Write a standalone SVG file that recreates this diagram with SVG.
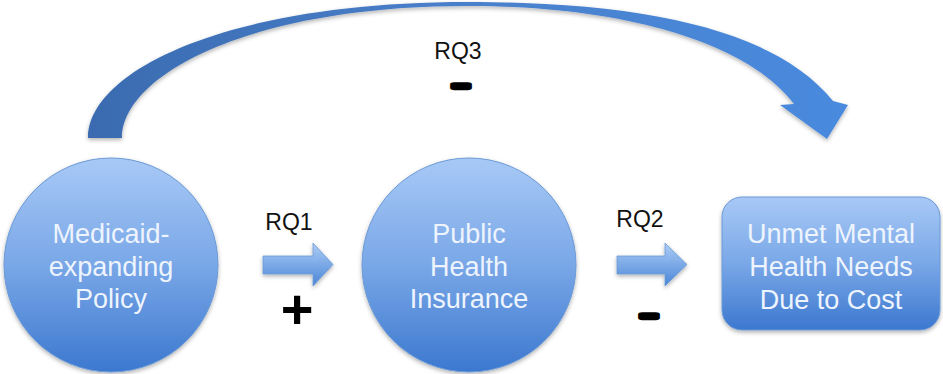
<svg xmlns="http://www.w3.org/2000/svg" width="943" height="374" viewBox="0 0 943 374">
  <defs>
    <linearGradient id="nodeGrad" x1="0" y1="0" x2="0" y2="1">
      <stop offset="0" stop-color="#a8c9f6"/>
      <stop offset="0.5" stop-color="#79a7e7"/>
      <stop offset="1" stop-color="#3c78cf"/>
    </linearGradient>
    <linearGradient id="smallArrow" x1="0" y1="0" x2="0" y2="1">
      <stop offset="0" stop-color="#aecdf6"/>
      <stop offset="1" stop-color="#4a86d6"/>
    </linearGradient>
    <linearGradient id="bigArrow" x1="88" y1="0" x2="848" y2="0" gradientUnits="userSpaceOnUse">
      <stop offset="0" stop-color="#3a6bb0"/>
      <stop offset="0.5" stop-color="#4a80cb"/>
      <stop offset="1" stop-color="#4a8ade"/>
    </linearGradient>
    <filter id="shadow" x="-10%" y="-10%" width="120%" height="125%">
      <feDropShadow dx="0" dy="2" stdDeviation="2" flood-color="#000" flood-opacity="0.3"/>
    </filter>
  </defs>
  <style>
    .node { fill: url(#nodeGrad); stroke: #6b9ad6; stroke-width: 1; filter: url(#shadow); }
    .ntext { font-family: "Liberation Sans", Arial, sans-serif; font-size: 27px; fill: #eef4fd; text-anchor: middle; }
    .lbl { font-family: "Liberation Sans", Arial, sans-serif; font-size: 23px; fill: #111; text-anchor: middle; }
    .sign { font-family: "Liberation Sans", Arial, sans-serif; font-weight: bold; fill: #000; text-anchor: middle; }
    .minus { font-family: "Liberation Sans", Arial, sans-serif; font-weight: bold; font-size: 30px; fill: #000; stroke: #000; stroke-width: 4.5; stroke-linejoin: round; text-anchor: middle; }
    .sarrow { fill: url(#smallArrow); stroke: #6b9ad6; stroke-width: 0.8; filter: url(#shadow); }
  </style>

  <g id="connectors">
    <path id="rq3-arrow" d="M88,138 C88,70 230,2 467,2 C660,2 780,35 833,101 L848,105 L827,139 L780,105 L794,104 C750,45 630,6 467,6 C250,6 122,75 122,138 Z" fill="url(#bigArrow)" filter="url(#shadow)"/>
    <path id="rq1-arrow" class="sarrow" d="M263,256 H313 V243 L333,264.5 L313,286 V274 H263 Z"/>
    <path id="rq2-arrow" class="sarrow" d="M617,256 H665 V243 L687,264.5 L665,286 V274 H617 Z"/>
    <text class="lbl" x="458" y="59">RQ3</text>
    <text class="minus" x="0" y="0" transform="translate(461,93.5) scale(1.8,1)">-</text>
    <text class="lbl" x="289" y="230">RQ1</text>
    <text class="sign" x="297" y="328" font-size="56">+</text>
    <text class="lbl" x="640" y="227">RQ2</text>
    <text class="minus" x="0" y="0" transform="translate(649,323.5) scale(1.8,1)">-</text>
  </g>

  <g id="node-medicaid">
    <circle class="node" cx="111" cy="265" r="107"/>
    <text class="ntext" x="111" y="243">Medicaid-</text>
    <text class="ntext" x="111" y="276">expanding</text>
    <text class="ntext" x="111" y="308">Policy</text>
  </g>

  <g id="node-insurance">
    <circle class="node" cx="469" cy="265" r="107"/>
    <text class="ntext" x="469" y="243">Public</text>
    <text class="ntext" x="469" y="276">Health</text>
    <text class="ntext" x="469" y="308">Insurance</text>
  </g>

  <g id="node-unmet">
    <rect class="node" x="722" y="197" width="218" height="133" rx="20" ry="20"/>
    <text class="ntext" x="831" y="243">Unmet Mental</text>
    <text class="ntext" x="831" y="276">Health Needs</text>
    <text class="ntext" x="831" y="309">Due to Cost</text>
  </g>
</svg>
